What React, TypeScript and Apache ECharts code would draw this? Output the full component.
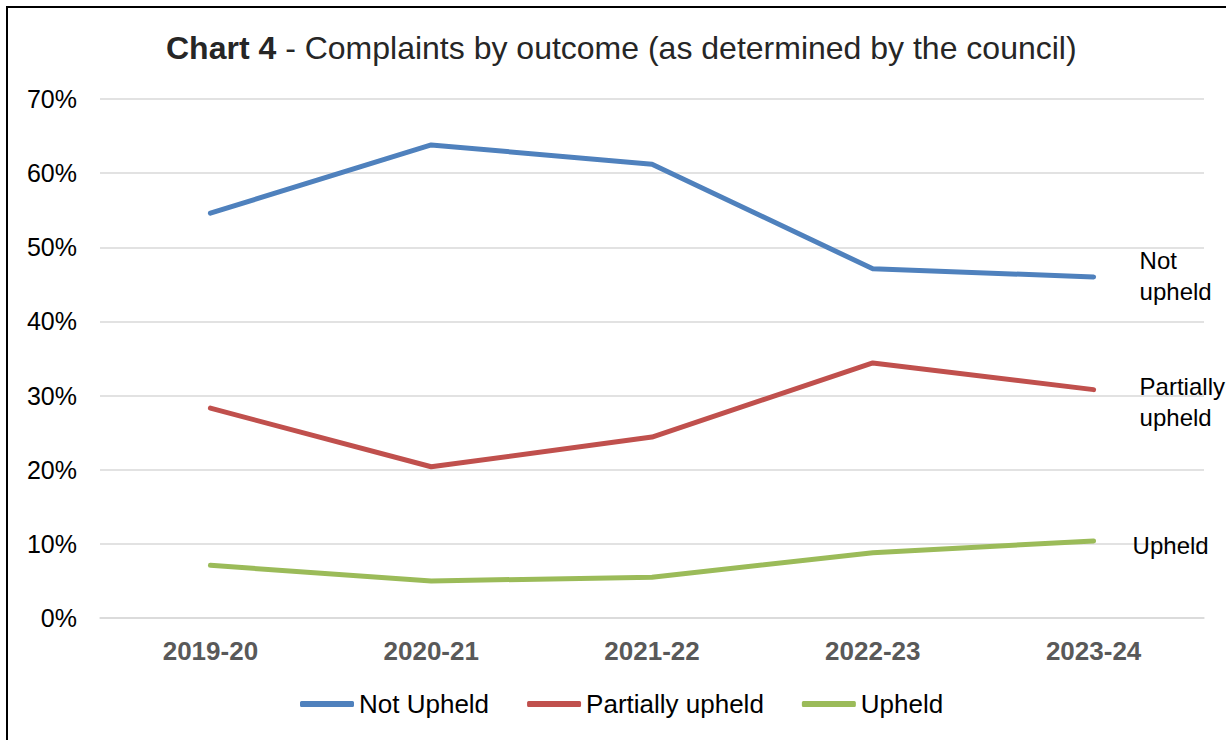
import React, { useEffect, useRef } from "react";
import * as echarts from "echarts";

const categories = ["2019-20", "2020-21", "2021-22", "2022-23", "2023-24"];
const notUpheld = [54.6, 63.8, 61.2, 47.1, 46.0];
const partiallyUpheld = [28.3, 20.4, 24.4, 34.4, 30.8];
const upheld = [7.1, 5.0, 5.5, 8.8, 10.4];
const yTicks = { min: 0, max: 70, interval: 10 };

const FONT = "'Liberation Sans', Arial, sans-serif";

export default function App() {
  const ref = useRef<HTMLDivElement>(null);
  useEffect(() => {
    if (!ref.current) return;
    const chart = echarts.init(ref.current, undefined, { renderer: "svg" });
    const mk = (name: string, data: number[], color: string, label: string, offset: number[], distance: number) => ({
      name,
      type: "line",
      data,
      symbol: "none",
      lineStyle: { width: 5, color, cap: "round", join: "round" },
      itemStyle: { color },
      endLabel: {
        show: true,
        formatter: label,
        distance,
        offset,
        align: "left",
        verticalAlign: "middle",
        fontFamily: FONT,
        fontSize: 24,
        lineHeight: 31,
        color: "#000",
      },
    });
    chart.setOption({
      animation: false,
      textStyle: { fontFamily: FONT },
      title: {
        text: "{b|Chart 4} - Complaints by outcome (as determined by the council)",
        left: 161,
        top: 27,
        textStyle: {
          fontFamily: FONT,
          fontSize: 32,
          fontWeight: "normal",
          color: "#262626",
          rich: {
            b: { fontFamily: FONT, fontSize: 32, fontWeight: "bold", color: "#262626" },
          },
        },
      },
      legend: {
        left: 295,
        top: 686,
        icon: "roundRect",
        itemWidth: 54,
        itemHeight: 6,
        itemGap: 38,
        textStyle: { fontFamily: FONT, fontSize: 26, color: "#000" },
        data: ["Not Upheld", "Partially upheld", "Upheld"],
      },
      grid: { left: 100, right: 22, top: 99, bottom: 122, containLabel: false },
      xAxis: {
        type: "category",
        data: categories,
        boundaryGap: true,
        axisLine: { show: true, lineStyle: { color: "#D9D9D9", width: 1.5 } },
        axisTick: { show: false },
        axisLabel: {
          margin: 20,
          fontFamily: FONT,
          fontSize: 26,
          fontWeight: "bold",
          color: "#595959",
        },
      },
      yAxis: {
        type: "value",
        min: yTicks.min,
        max: yTicks.max,
        interval: yTicks.interval,
        axisLine: { show: false },
        axisTick: { show: false },
        splitLine: { lineStyle: { color: "#D9D9D9", width: 1.5 } },
        axisLabel: {
          formatter: "{value}%",
          margin: 23,
          fontFamily: FONT,
          fontSize: 25,
          color: "#000",
        },
      },
      series: [
        mk("Not Upheld", notUpheld, "#4F81BD", "Not\nupheld", [0, -1], 46),
        mk("Partially upheld", partiallyUpheld, "#C0504D", "Partially\nupheld", [0, 12], 46),
        mk("Upheld", upheld, "#9BBB59", "Upheld", [0, 5], 39),
      ],
    });
    return () => chart.dispose();
  }, []);
  return (
    <>
      <div
        ref={ref}
        style={{ position: "fixed", left: 0, top: 0, width: 1226, height: 740, background: "#fff" }}
      />
      <div
        style={{
          position: "fixed",
          left: 6,
          top: 6,
          width: 1400,
          height: 900,
          borderLeft: "2px solid #000",
          borderTop: "2px solid #000",
          pointerEvents: "none",
        }}
      />
    </>
  );
}
